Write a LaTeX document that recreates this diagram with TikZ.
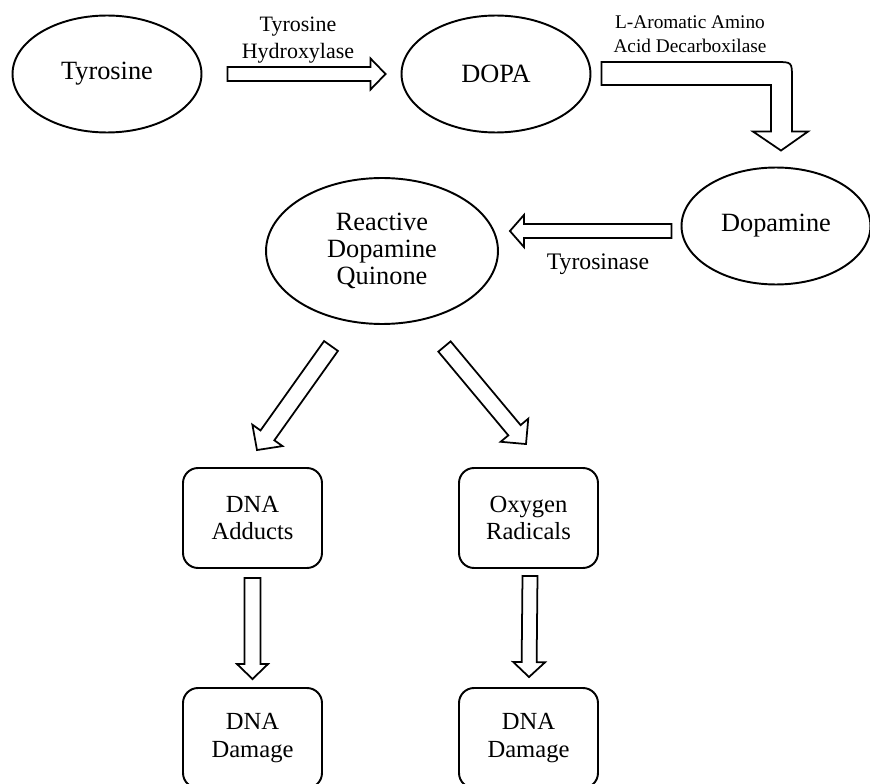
\documentclass[tikz,border=0pt]{standalone}
\usepackage{fontspec}
\setmainfont{Liberation Serif}
\usetikzlibrary{shapes.geometric, calc}

% hollow block arrow: tail, tip, half shaft, half head, head length
\newcommand{\hollowarrow}[5]{%
  \draw[blockarrow] ($(#1)!#3!90:(#2)$)
    -- ($(#2)!#5!(#1)!#3!-90:(#1)$)
    -- ($(#2)!#5!(#1)!#4!-90:(#1)$)
    -- (#2)
    -- ($(#2)!#5!(#1)!#4!90:(#1)$)
    -- ($(#2)!#5!(#1)!#3!90:(#1)$)
    -- ($(#1)!#3!-90:(#2)$) -- cycle;}

\begin{document}
\begin{tikzpicture}[
        x=0.02cm, y=-0.02cm,
        oval/.style={ellipse, draw, line width=1.1pt, minimum width=3.78cm, minimum height=2.34cm, inner sep=0pt, align=center, font=\fontsize{15}{15.5}\selectfont},
        card/.style={rectangle, rounded corners=0.3cm, draw, line width=1.1pt, minimum width=2.78cm, minimum height=2cm, align=center, font=\fontsize{14}{15.5}\selectfont},
        blockarrow/.style={draw, line width=1pt, fill=white, line join=miter},
        lbl/.style={align=center, inner sep=0pt}
    ]
        \useasboundingbox (0,0) rectangle (870,784);
        \clip (0,0) rectangle (870,784);

        \node[oval] (tyr)  at (107,74)  {Tyrosine};
        \node[oval] (dopa) at (496,74)  {DOPA};
        \node[oval] (dopm) at (776,226) {Dopamine};
        \node[oval, minimum width=4.64cm, minimum height=2.92cm] (rdq) at (382,251) {Reactive\\Dopamine\\Quinone};

        \node[card] (adduct) at (252.5,518) {DNA\\Adducts};
        \node[card] (radic)  at (528.5,518) {Oxygen\\Radicals};
        \node[card] (dmgA)   at (252.5,738) {DNA\\Damage};
        \node[card] (dmgB)   at (528.5,738) {DNA\\Damage};

        % arrow ends
        \coordinate (a1s) at ([xshift=0.5cm]tyr.east);
        \coordinate (a1e) at ([xshift=-0.3cm]dopa.west);
        \coordinate (a2s) at ([shift={(10,-1)}]dopa.east);
        \coordinate (a2e) at ([shift={(5,-16)}]dopm.north);
        \coordinate (a3s) at ([shift={(-9,5)}]dopm.west);
        \coordinate (a3e) at ([shift={(11,-20)}]rdq.east);
        \coordinate (a4s) at ([shift={(-51,95)}]rdq.center);
        \coordinate (a4e) at ([shift={(4.5,-17)}]adduct.north);
        \coordinate (a5s) at ([shift={(62.5,95.5)}]rdq.center);
        \coordinate (a5e) at ([shift={(-2.5,-23)}]radic.north);
        \coordinate (a6s) at ([shift={(0,9)}]adduct.south);
        \coordinate (a6e) at ([shift={(0,-8)}]dmgA.north);
        \coordinate (a7s) at ([shift={(1.5,7)}]radic.south);
        \coordinate (a7e) at ([shift={(0.5,-10)}]dmgB.north);

        \hollowarrow{a1s}{a1e}{0.14cm}{0.31cm}{0.3cm}
        \draw[blockarrow] ($(a2s)+(0,-11)$) -- ($(a2e|-a2s)+(-5,-11)$)
            .. controls ($(a2e|-a2s)+(11,-11)$) .. ($(a2e|-a2s)+(11,5)$)
            -- ($(a2e)+(11,-19)$) -- ($(a2e)+(27,-19)$) -- (a2e)
            -- ($(a2e)+(-28,-19)$) -- ($(a2e)+(-10,-19)$)
            -- ($(a2e|-a2s)+(-10,12)$) -- ($(a2s)+(0,12)$) -- cycle;
        \hollowarrow{a3s}{a3e}{0.14cm}{0.32cm}{0.28cm}
        \hollowarrow{a4s}{a4e}{0.17cm}{0.37cm}{0.36cm}
        \hollowarrow{a5s}{a5e}{0.16cm}{0.36cm}{0.36cm}
        \hollowarrow{a6s}{a6e}{0.16cm}{0.31cm}{0.3cm}
        \hollowarrow{a7s}{a7e}{0.15cm}{0.32cm}{0.3cm}

        % enzyme labels
        \node[lbl, font=\fontsize{12.5}{15}\selectfont] (hydlbl)    at (298,40)  {Tyrosine\\Hydroxylase};
        \node[lbl, font=\fontsize{11}{14}\selectfont]   (decarblbl) at (690,34)  {L-Aromatic Amino\\Acid Decarboxilase};
        \node[lbl, font=\fontsize{13.5}{16}\selectfont] (tyrnlbl)   at (598,264) {Tyrosinase};
    \end{tikzpicture}
\end{document}
